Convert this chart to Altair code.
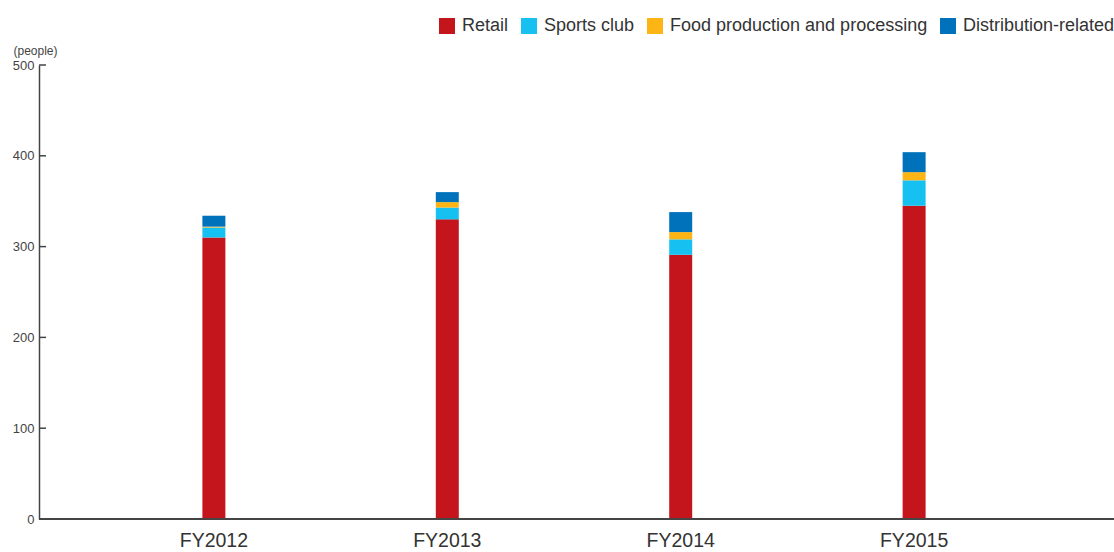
import altair as alt
import pandas as pd

years = ["FY2012", "FY2013", "FY2014", "FY2015"]
categories = ["Retail", "Sports club", "Food production and processing", "Distribution-related"]
retail = [310, 330, 291, 345]
sports = [11, 13, 17, 28]
food = [1, 6, 8, 9]
distribution = [12, 11, 22, 22]
colors = ["#C4141C", "#16C1F2", "#FDB516", "#0071BB"]
y_ticks = [100, 200, 300, 400, 500]

rows = []
for i, y in enumerate(years):
    for k, (cat, series) in enumerate(zip(categories, [retail, sports, food, distribution])):
        rows.append({"year": y, "category": cat, "value": series[i], "idx": k})
df = pd.DataFrame(rows)
ticks_df = pd.DataFrame({"value": y_ticks})

FONT = "Liberation Sans"
W, H = 1050, 454

yscale = alt.Scale(domain=[0, 500], nice=False)

bars = alt.Chart(df).mark_bar().encode(
    x=alt.X("year:N", sort=years,
            scale=alt.Scale(paddingInner=0.9015, paddingOuter=0.7),
            axis=alt.Axis(title=None, domain=False, ticks=False, tickSize=0,
                          labelFontSize=19.5, labelColor="#333333", labelPadding=12,
                          labelFont=FONT, labelAngle=0)),
    y=alt.Y("value:Q", stack="zero", scale=yscale,
            axis=alt.Axis(title="(people)", values=[0, 100, 200, 300, 400, 500],
                          domain=True, domainColor="#444444", domainWidth=1.5,
                          ticks=False, tickSize=0, grid=False,
                          labelFontSize=13, labelColor="#444444", labelPadding=5, labelFont=FONT,
                          titleAngle=0, titleX=-26, titleY=-11, titleAlign="left",
                          titleBaseline="alphabetic", titleFontSize=12,
                          titleFontWeight="normal", titleColor="#444444", titleFont=FONT)),
    color=alt.Color("category:N", scale=alt.Scale(domain=categories, range=colors),
                    legend=alt.Legend(title=None, orient="none", legendX=399, legendY=-48,
                                      direction="horizontal", symbolType="square",
                                      symbolSize=256, symbolStrokeWidth=0,
                                      labelFontSize=18, labelColor="#333333", labelFont=FONT,
                                      labelOffset=6, columnPadding=11, padding=0,
                                      labelLimit=0)),
    order=alt.Order("idx:Q", sort="ascending"),
)

inner_ticks = alt.Chart(ticks_df).mark_rule(color="#444444", strokeWidth=1.5).encode(
    y=alt.Y("value:Q", scale=yscale),
    x=alt.value(0),
    x2=alt.value(7),
)

x_line = alt.Chart(ticks_df).mark_rule(color="#444444", strokeWidth=1.5).encode(
    y=alt.datum(0),
    x=alt.value(0),
    x2=alt.value(1075),
)

chart = alt.layer(bars, inner_ticks, x_line).properties(
    width=W, height=H,
    background="white",
    autosize=alt.AutoSizeParams(type="none"),
    padding={"left": 39, "top": 65, "right": 25, "bottom": 33},
).configure_view(stroke=None)

chart.save("out.html", embed_options={"renderer": "svg", "actions": False})
